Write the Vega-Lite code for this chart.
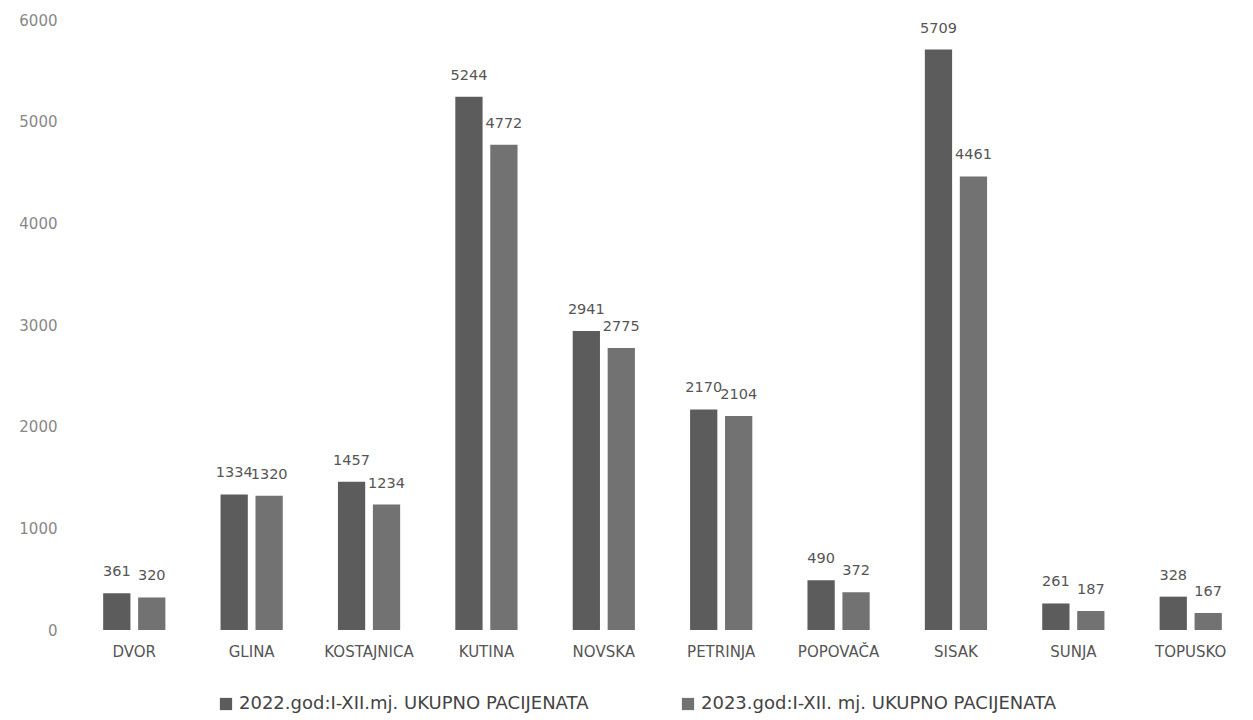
{
  "$schema": "https://vega.github.io/schema/vega-lite/v6.json",
  "width": 1175,
  "height": 610,
  "autosize": {"type": "none"},
  "padding": {"left": 75, "top": 20, "right": 3, "bottom": 90},
  "background": "white",
  "config": {
    "view": {"stroke": null},
    "font": "DejaVu Sans"
  },
  "data": {
    "values": [
      {"grad": "DVOR", "godina": "2022.god:I-XII.mj. UKUPNO PACIJENATA", "v": 361},
      {"grad": "DVOR", "godina": "2023.god:I-XII. mj. UKUPNO PACIJENATA", "v": 320},
      {"grad": "GLINA", "godina": "2022.god:I-XII.mj. UKUPNO PACIJENATA", "v": 1334},
      {"grad": "GLINA", "godina": "2023.god:I-XII. mj. UKUPNO PACIJENATA", "v": 1320},
      {"grad": "KOSTAJNICA", "godina": "2022.god:I-XII.mj. UKUPNO PACIJENATA", "v": 1457},
      {"grad": "KOSTAJNICA", "godina": "2023.god:I-XII. mj. UKUPNO PACIJENATA", "v": 1234},
      {"grad": "KUTINA", "godina": "2022.god:I-XII.mj. UKUPNO PACIJENATA", "v": 5244},
      {"grad": "KUTINA", "godina": "2023.god:I-XII. mj. UKUPNO PACIJENATA", "v": 4772},
      {"grad": "NOVSKA", "godina": "2022.god:I-XII.mj. UKUPNO PACIJENATA", "v": 2941},
      {"grad": "NOVSKA", "godina": "2023.god:I-XII. mj. UKUPNO PACIJENATA", "v": 2775},
      {"grad": "PETRINJA", "godina": "2022.god:I-XII.mj. UKUPNO PACIJENATA", "v": 2170},
      {"grad": "PETRINJA", "godina": "2023.god:I-XII. mj. UKUPNO PACIJENATA", "v": 2104},
      {"grad": "POPOVAČA", "godina": "2022.god:I-XII.mj. UKUPNO PACIJENATA", "v": 490},
      {"grad": "POPOVAČA", "godina": "2023.god:I-XII. mj. UKUPNO PACIJENATA", "v": 372},
      {"grad": "SISAK", "godina": "2022.god:I-XII.mj. UKUPNO PACIJENATA", "v": 5709},
      {"grad": "SISAK", "godina": "2023.god:I-XII. mj. UKUPNO PACIJENATA", "v": 4461},
      {"grad": "SUNJA", "godina": "2022.god:I-XII.mj. UKUPNO PACIJENATA", "v": 261},
      {"grad": "SUNJA", "godina": "2023.god:I-XII. mj. UKUPNO PACIJENATA", "v": 187},
      {"grad": "TOPUSKO", "godina": "2022.god:I-XII.mj. UKUPNO PACIJENATA", "v": 328},
      {"grad": "TOPUSKO", "godina": "2023.god:I-XII. mj. UKUPNO PACIJENATA", "v": 167}
    ]
  },
  "encoding": {
    "x": {
      "field": "grad",
      "type": "nominal",
      "sort": null,
      "scale": {"paddingInner": 0.47, "paddingOuter": 0.24},
      "axis": {
        "title": null,
        "labelAngle": 0,
        "domain": false,
        "ticks": false,
        "labelFontSize": 15,
        "labelColor": "#555555",
        "labelPadding": 14
      }
    },
    "xOffset": {"field": "godina", "type": "nominal", "scale": {"paddingInner": 0.22}},
    "y": {
      "field": "v",
      "type": "quantitative",
      "scale": {"domain": [0, 6000]},
      "axis": {
        "title": null,
        "values": [0, 1000, 2000, 3000, 4000, 5000, 6000],
        "format": "d",
        "grid": false,
        "domain": false,
        "ticks": false,
        "labelFontSize": 15,
        "labelColor": "#888888",
        "labelPadding": 18
      }
    }
  },
  "layer": [
    {
      "mark": {"type": "bar"},
      "encoding": {
        "color": {
          "field": "godina",
          "type": "nominal",
          "scale": {"range": ["#5c5c5c", "#727272"]},
          "legend": {
            "title": null,
            "orient": "none",
            "legendX": 142,
            "legendY": 675,
            "direction": "horizontal",
            "symbolType": "square",
            "symbolSize": 150,
            "labelFontSize": 18,
            "labelColor": "#444444",
            "labelLimit": 0,
            "columnPadding": 90,
            "labelOffset": 4
          }
        }
      }
    },
    {
      "mark": {"type": "text", "baseline": "bottom", "dy": -14, "fontSize": 14.5, "color": "#555555"},
      "encoding": {
        "text": {"field": "v", "type": "quantitative", "format": "d"}
      }
    }
  ]
}
